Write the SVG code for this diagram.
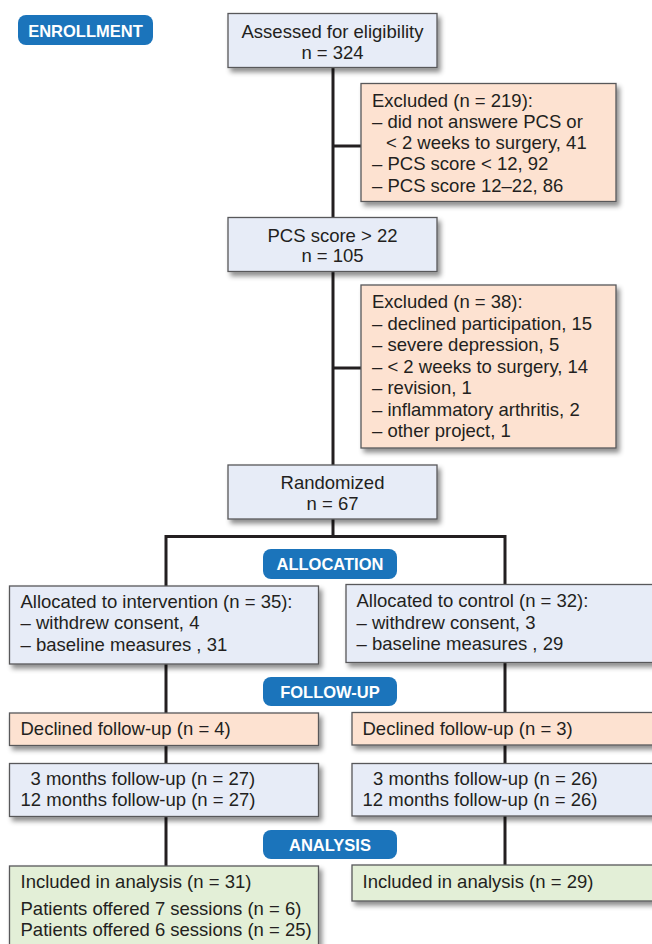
<svg xmlns="http://www.w3.org/2000/svg" width="652" height="944" viewBox="0 0 652 944">
  <defs>
    <filter id="sh" x="-10%" y="-10%" width="125%" height="140%">
      <feDropShadow dx="3" dy="4" stdDeviation="2.5" flood-color="#000" flood-opacity="0.45"/>
    </filter>
  </defs>
  <style>
    text { font-family: "Liberation Sans", Arial, Helvetica, sans-serif; fill: #231f20; font-size: 18.5px; }
    .c { text-anchor: middle; }
    .pill rect { fill: #1b74bb; }
    .pill text { fill: #fff; font-weight: bold; font-size: 16.5px; text-anchor: middle; }
    .blue { fill: #e7ecf7; stroke: #58585a; stroke-width: 1.3; filter: url(#sh); }
    .peach { fill: #fde2d1; stroke: #58585a; stroke-width: 1.3; filter: url(#sh); }
    .green { fill: #e3efd7; stroke: #58585a; stroke-width: 1.3; filter: url(#sh); }
    .conn { stroke: #231f20; stroke-width: 3; fill: none; }
  </style>

  <g id="connectors" class="conn">
    <line x1="333" y1="67" x2="333" y2="218"/>
    <line x1="333" y1="146" x2="361" y2="146"/>
    <line x1="333" y1="271" x2="333" y2="466"/>
    <line x1="333" y1="368" x2="361" y2="368"/>
    <polyline points="333,519 333,536.5"/>
    <polyline points="166,587 166,536.5 505,536.5 505,585"/>
    <line x1="166" y1="664" x2="166" y2="713"/>
    <line x1="505" y1="662" x2="505" y2="712"/>
    <line x1="166" y1="745" x2="166" y2="764"/>
    <line x1="505" y1="745" x2="505" y2="764"/>
    <line x1="166" y1="816" x2="166" y2="866"/>
    <line x1="505" y1="816" x2="505" y2="865"/>
  </g>

  <g id="enrollment" class="pill">
    <rect x="18" y="15" width="135" height="30" rx="8"/>
    <text x="85.5" y="36.5">ENROLLMENT</text>
  </g>
  <g id="allocation" class="pill">
    <rect x="263" y="549" width="134" height="30" rx="8"/>
    <text x="330" y="570">ALLOCATION</text>
  </g>
  <g id="followup" class="pill">
    <rect x="263" y="677" width="134" height="29" rx="8"/>
    <text x="330" y="697.5">FOLLOW-UP</text>
  </g>
  <g id="analysis" class="pill">
    <rect x="263" y="830" width="134" height="29" rx="8"/>
    <text x="330" y="850.5">ANALYSIS</text>
  </g>

  <g id="assessed">
    <rect class="blue" x="228" y="13.5" width="209" height="54"/>
    <text class="c" x="332.5" y="38">Assessed for eligibility</text>
    <text class="c" x="332.5" y="58.5">n = 324</text>
  </g>

  <g id="excluded1">
    <rect class="peach" x="361" y="83.5" width="255" height="118"/>
    <text x="372" y="106.5">Excluded (n = 219):</text>
    <text x="372" y="128">– did not answere PCS or</text>
    <text x="386" y="149">&lt; 2 weeks to surgery, 41</text>
    <text x="372" y="170">– PCS score &lt; 12, 92</text>
    <text x="372" y="191.5">– PCS score 12–22, 86</text>
  </g>

  <g id="pcs">
    <rect class="blue" x="228" y="217.5" width="209" height="54"/>
    <text class="c" x="332.5" y="241.5">PCS score &gt; 22</text>
    <text class="c" x="332.5" y="262">n = 105</text>
  </g>

  <g id="excluded2">
    <rect class="peach" x="361" y="285" width="255" height="163"/>
    <text x="372" y="307.5">Excluded (n = 38):</text>
    <text x="372" y="329.5">– declined participation, 15</text>
    <text x="372" y="351">– severe depression, 5</text>
    <text x="372" y="372.5">– &lt; 2 weeks to surgery, 14</text>
    <text x="372" y="394">– revision, 1</text>
    <text x="372" y="415.5">– inflammatory arthritis, 2</text>
    <text x="372" y="437">– other project, 1</text>
  </g>

  <g id="randomized">
    <rect class="blue" x="228" y="465" width="209" height="54"/>
    <text class="c" x="332.5" y="488.5">Randomized</text>
    <text class="c" x="332.5" y="509.5">n = 67</text>
  </g>

  <g id="alloc-intervention">
    <rect class="blue" x="9.5" y="586" width="309" height="78"/>
    <text x="20.5" y="607.5">Allocated to intervention (n = 35):</text>
    <text x="20.5" y="629">– withdrew consent, 4</text>
    <text x="20.5" y="650.5">– baseline measures , 31</text>
  </g>

  <g id="alloc-control">
    <rect class="blue" x="346" y="584.5" width="316" height="78"/>
    <text x="356.5" y="607">Allocated to control (n = 32):</text>
    <text x="356.5" y="628.5">– withdrew consent, 3</text>
    <text x="356.5" y="650">– baseline measures , 29</text>
  </g>

  <g id="declined-intervention">
    <rect class="peach" x="9.5" y="713" width="309" height="32.5"/>
    <text x="20.5" y="734.5">Declined follow-up (n = 4)</text>
  </g>

  <g id="declined-control">
    <rect class="peach" x="352" y="712.5" width="310" height="32.5"/>
    <text x="362.5" y="734.5">Declined follow-up (n = 3)</text>
  </g>

  <g id="followup-intervention">
    <rect class="blue" x="9.5" y="763.5" width="309" height="53"/>
    <text x="30.5" y="784.5">3 months follow-up (n = 27)</text>
    <text x="20.5" y="805.5">12 months follow-up (n = 27)</text>
  </g>

  <g id="followup-control">
    <rect class="blue" x="352" y="763.5" width="310" height="52.5"/>
    <text x="373" y="784.5">3 months follow-up (n = 26)</text>
    <text x="362.5" y="805.5">12 months follow-up (n = 26)</text>
  </g>

  <g id="analysis-intervention">
    <rect class="green" x="9.5" y="866" width="309" height="90"/>
    <text x="20.5" y="887.5">Included in analysis (n = 31)</text>
    <text x="20.5" y="914.5">Patients offered 7 sessions (n = 6)</text>
    <text x="20.5" y="935.5">Patients offered 6 sessions (n = 25)</text>
  </g>

  <g id="analysis-control">
    <rect class="green" x="352" y="865" width="310" height="36"/>
    <text x="362.5" y="887.5">Included in analysis (n = 29)</text>
  </g>
</svg>
